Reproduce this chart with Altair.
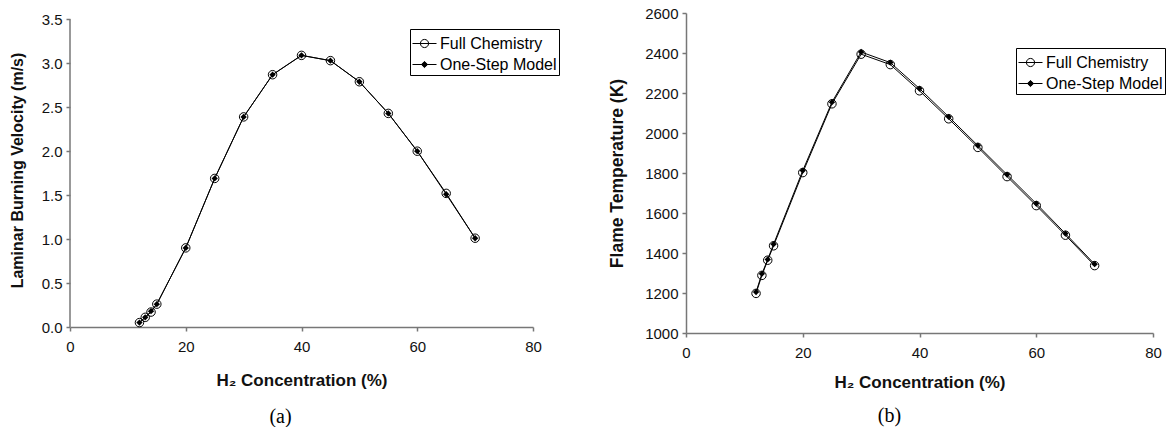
import altair as alt
import pandas as pd

# ---------------- data ----------------
h2_pct = [12, 13, 14, 15, 20, 25, 30, 35, 40, 45, 50, 55, 60, 65, 70]
vel_full = [0.05, 0.11, 0.17, 0.26, 0.90, 1.69, 2.39, 2.87, 3.09, 3.03, 2.79, 2.43, 2.00, 1.52, 1.01]
vel_one = [0.05, 0.11, 0.18, 0.26, 0.90, 1.69, 2.39, 2.87, 3.09, 3.03, 2.79, 2.43, 2.00, 1.51, 1.01]
temp_full = [1198, 1288, 1364, 1436, 1802, 2146, 2394, 2342, 2211, 2071, 1928, 1782, 1637, 1489, 1337]
temp_one = [1205, 1296, 1368, 1444, 1812, 2154, 2405, 2352, 2222, 2081, 1937, 1792, 1647, 1497, 1344]
series_names = ["Full Chemistry", "One-Step Model"]
x_ticks = [0, 20, 40, 60, 80]
vel_ticks = [0.0, 0.5, 1.0, 1.5, 2.0, 2.5, 3.0, 3.5]
temp_ticks = [1000, 1200, 1400, 1600, 1800, 2000, 2200, 2400, 2600]
x_title = "H\u2082 Concentration (%)"

# panel (a) sits a little lower in the figure: its y scale keeps some
# head-room above 3.5 while its axis line stops at 3.5
vel_scale_domain = [0, 3.572]
vel_axis_span = [0.0, 3.5]
temp_scale_domain = [1000, 2600]

FONT = "Liberation Sans"
SERIF = "Liberation Serif"
AXIS_GREY = "#777777"

# legend symbols: line with open circle / line with filled diamond
full_path = "M-1,0H1M-0.34,0A0.34,0.34,0,1,1,0.34,0A0.34,0.34,0,1,1,-0.34,0Z"
one_path = "M-1,0H1M0,-0.26L0.26,0L0,0.26L-0.26,0Z"


def long_df(full, one):
    n = len(h2_pct)
    return pd.DataFrame({
        "h2": h2_pct + h2_pct,
        "value": full + one,
        "series": [series_names[0]] * n + [series_names[1]] * n,
    })


anchor_df = pd.DataFrame({"k": [0]})


def anchor(px, py):
    return alt.Chart(anchor_df).mark_text(
        text=".", fontSize=1, opacity=0, align="left", baseline="top"
    ).encode(x=alt.value(px), y=alt.value(py))


def panel(df, y_title, y_title_size, y_domain, y_ticks, y_fmt, leg_x, leg_y, w, h,
          caption, cap_dx, cap_offset, ytitle_pad, xtitle_pad, anchors, axis_span=None):
    x_enc = alt.X("h2:Q", scale=alt.Scale(domain=[0, 80], nice=False),
                  axis=alt.Axis(values=x_ticks, format="d", title=x_title,
                                titlePadding=xtitle_pad))
    y_axis_kw = dict(values=y_ticks, format=y_fmt, title=y_title,
                     titlePadding=ytitle_pad, titleFontSize=y_title_size)
    if axis_span is not None:
        y_axis_kw["domain"] = False
    y_enc = alt.Y("value:Q", scale=alt.Scale(domain=y_domain, nice=False),
                  axis=alt.Axis(**y_axis_kw))
    base = alt.Chart(df).encode(x=x_enc, y=y_enc)
    lines = base.mark_line(color="black", strokeWidth=1).encode(detail="series:N")
    circles = base.transform_filter(
        alt.datum.series == series_names[0]
    ).mark_point(shape="circle", filled=False, color="black", size=72,
                 strokeWidth=1, opacity=1)
    diamonds = base.transform_filter(
        alt.datum.series == series_names[1]
    ).mark_point(shape="diamond", filled=True, color="black", size=40, opacity=1)

    leg = alt.Legend(
        title=None, orient="none", legendX=leg_x, legendY=leg_y,
        strokeColor="black", fillColor="white", padding=2, rowPadding=0,
        symbolSize=576, symbolStrokeWidth=1,
        labelFont=FONT, labelFontSize=16, labelColor="black", labelOffset=3,
        cornerRadius=0,
    )
    legend_layer = alt.Chart(df).transform_filter("false").mark_point(
        filled=False, strokeWidth=1, opacity=1
    ).encode(
        shape=alt.Shape("series:N",
                        scale=alt.Scale(domain=series_names, range=[full_path, one_path]),
                        legend=leg),
        fill=alt.Fill("series:N",
                      scale=alt.Scale(domain=series_names, range=["transparent", "black"]),
                      legend=leg),
        stroke=alt.Stroke("series:N",
                          scale=alt.Scale(domain=series_names, range=["black", "black"]),
                          legend=leg),
    )
    layers = [lines, circles, diamonds, legend_layer]
    if axis_span is not None:
        axis_line = alt.Chart(anchor_df).mark_rule(
            color=AXIS_GREY, strokeWidth=1.5
        ).encode(
            x=alt.value(0),
            y=alt.datum(axis_span[0], type="quantitative",
                        scale=alt.Scale(domain=y_domain, nice=False)),
            y2=alt.datum(axis_span[1]),
        )
        layers.append(axis_line)
    layers += [anchor(px, py) for px, py in anchors]
    return alt.layer(*layers).properties(
        width=w, height=h,
        title=alt.TitleParams(caption, orient="bottom", anchor="middle", frame="group",
                              dx=cap_dx, offset=cap_offset, font=SERIF, fontSize=20,
                              fontWeight="normal", color="black"),
    )


panel_a = panel(long_df(vel_full, vel_one), "Laminar Burning Velocity (m/s)", 16,
                vel_scale_domain, vel_ticks, ".1f", 340, 16, 463, 314,
                "(a)", -21, 19, 16, 18, [(-70, -13), (500, -13)], axis_span=vel_axis_span)
panel_b = panel(long_df(temp_full, temp_one), "Flame Temperature (K)", 17.5,
                temp_scale_domain, temp_ticks, "d", 330, 35, 467, 320,
                "(b)", -30, 16, 18, 14, [(-115, -13)])

chart = alt.concat(panel_a, panel_b, columns=2, spacing=0, align="none").resolve_scale(
    x="independent", y="independent", shape="independent", fill="independent",
    stroke="independent"
).resolve_legend(shape="independent", fill="independent", stroke="independent").properties(
    padding={"left": 0, "top": 0, "right": 0, "bottom": 0},
    background="white",
).configure_view(stroke=None).configure_axis(
    grid=False,
    domainColor=AXIS_GREY, domainWidth=1.5,
    tickColor=AXIS_GREY, tickWidth=1.5, tickSize=4,
    labelFont=FONT, labelFontSize=15, labelColor="#111111", labelPadding=4,
    titleFont=FONT, titleFontSize=17, titleFontWeight="bold", titleColor="#111111",
).configure_axisX(labelPadding=8, labelFlush=False)

chart.save("out.html", embed_options={"renderer": "svg", "actions": False})
